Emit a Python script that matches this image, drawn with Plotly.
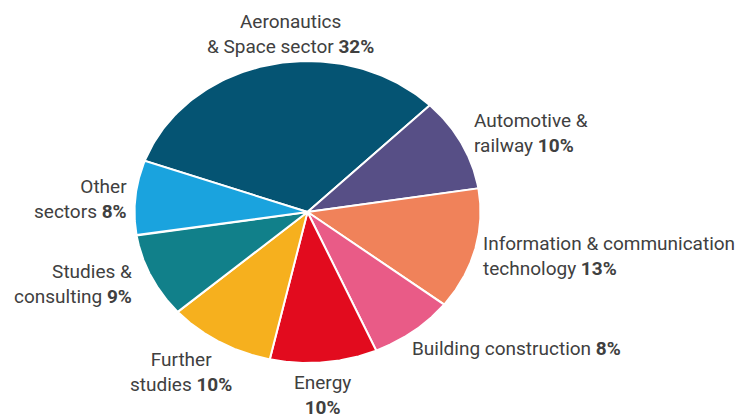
import numpy as np
import plotly.graph_objects as go

# ---- data ----
sectors = [
    "Aeronautics<br>& Space sector",
    "Automotive &<br>railway",
    "Information & communication<br>technology",
    "Building construction",
    "Energy<br>",
    "Further<br>studies",
    "Studies &<br>consulting",
    "Other<br>sectors",
]
shares = [32, 10, 13, 8, 10, 10, 9, 8]
colors = ["#055473", "#574F86", "#F0825A", "#E95B87",
          "#E20B1E", "#F6B01E", "#11808A", "#1AA3DE"]

# label placement (pixel space) : x, y, text-align, xanchor
label_pos = [
    (290, 34, "center", "center"),
    (472, 133, "left", "left"),
    (481, 256, "left", "left"),
    (410, 348, "left", "left"),
    (322, 395, "center", "center"),
    (181, 372, "center", "center"),
    (134, 284, "right", "right"),
    (129, 199, "right", "right"),
]

# ---- geometry of the (elliptical) pie ----
W, H = 753, 414
cx, cy, rx, ry = 307.5, 212.0, 173.0, 151.0
start_deg = -70.2

fig = go.Figure()
total = float(sum(shares))
cum = start_deg
for name, v, c in zip(sectors, shares, colors):
    a0 = cum
    a1 = cum + 360.0 * v / total
    cum = a1
    t = np.radians(np.linspace(a0, a1, 120))
    xs = np.concatenate([[cx], cx + rx * np.sin(t), [cx]])
    ys = np.concatenate([[cy], cy - ry * np.cos(t), [cy]])
    fig.add_trace(go.Scatter(
        x=xs, y=ys, mode="lines", fill="toself", fillcolor=c,
        line=dict(color="white", width=2), hoverinfo="skip",
        name=name.replace("<br>", " "),
    ))

for name, v, (lx, ly, al, xa) in zip(sectors, shares, label_pos):
    if name.endswith("<br>"):
        txt = f"{name}<b>{v}%</b>"
    else:
        txt = f"{name} <b>{v}%</b>"
    fig.add_annotation(
        x=lx, y=ly, xref="x", yref="y", text=txt, showarrow=False,
        align=al, xanchor=xa, yanchor="middle",
        font=dict(family="Roboto", size=19, color="#404040"),
    )

fig.update_layout(
    width=W, height=H, margin=dict(l=0, r=0, t=0, b=0),
    paper_bgcolor="white", plot_bgcolor="white", showlegend=False,
    xaxis=dict(range=[0, W], visible=False, fixedrange=True),
    yaxis=dict(range=[H, 0], visible=False, fixedrange=True),
)

fig.write_html(
    "out.html",
    config={"displayModeBar": False, "staticPlot": True},
    post_script="document.body.style.margin='0';document.body.style.overflow='hidden';",
)
